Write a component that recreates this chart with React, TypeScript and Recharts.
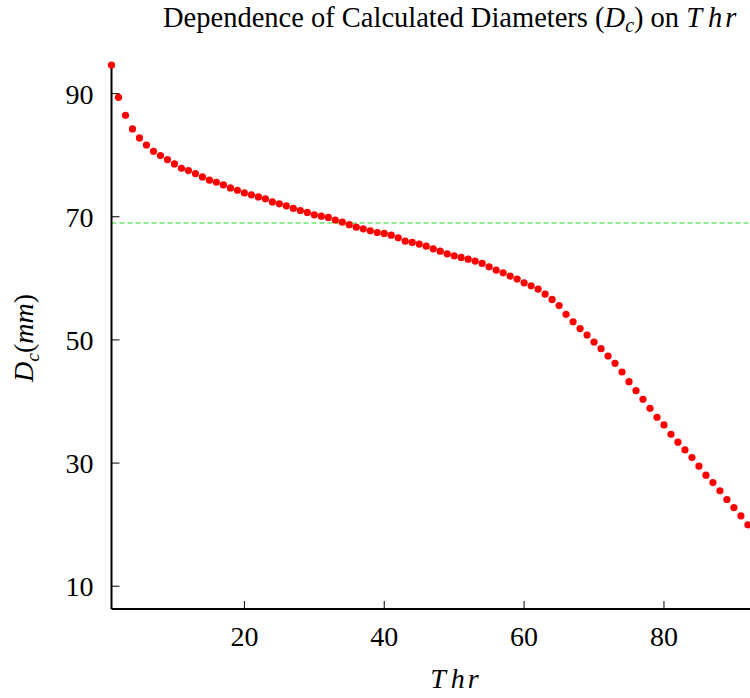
import React from "react";
import {
  ScatterChart,
  Scatter,
  XAxis,
  YAxis,
  ReferenceLine,
} from "recharts";

// Thr values (x) and calculated diameters Dc in mm (y)
const thr = [
  1, 2, 3, 4, 5, 6, 7, 8, 9, 10, 11, 12, 13, 14, 15, 16, 17, 18, 19, 20, 21,
  22, 23, 24, 25, 26, 27, 28, 29, 30, 31, 32, 33, 34, 35, 36, 37, 38, 39, 40,
  41, 42, 43, 44, 45, 46, 47, 48, 49, 50, 51, 52, 53, 54, 55, 56, 57, 58, 59,
  60, 61, 62, 63, 64, 65, 66, 67, 68, 69, 70, 71, 72, 73, 74, 75, 76, 77, 78,
  79, 80, 81, 82, 83, 84, 85, 86, 87, 88, 89, 90, 91, 92,
];

const dc = [
  94.64, 89.4, 86.48, 84.26, 82.8, 81.66, 80.64, 79.94, 79.29, 78.58, 77.88,
  77.5, 77.02, 76.47, 75.94, 75.61, 75.18, 74.69, 74.31, 73.88, 73.56, 73.23,
  72.91, 72.42, 72.1, 71.78, 71.35, 71.02, 70.7, 70.31, 70.1, 69.9, 69.48,
  69.12, 68.72, 68.31, 68.04, 67.72, 67.45, 67.29, 67.02, 66.58, 66.04, 65.83,
  65.56, 65.23, 64.8, 64.42, 63.98, 63.66, 63.4, 63.12, 62.8, 62.42, 61.87,
  61.34, 60.9, 60.37, 59.88, 59.28, 58.79, 58.26, 57.45, 56.58, 55.58, 54.15,
  52.95, 51.85, 50.8, 49.66, 48.58, 47.39, 46.2, 44.79, 43.22, 41.76, 40.36,
  38.9, 37.44, 36.19, 34.68, 33.39, 32.14, 30.89, 29.5, 28.04, 26.84, 25.49,
  24.08, 22.78, 21.43, 19.97,
];

const xTicks = [20, 40, 60, 80];
const yTicks = [10, 30, 50, 70, 90];
const threshold = 69;

const data = thr.map((t, i) => ({ thr: t, dc: dc[i] }));

const serif = "'Liberation Serif', 'Times New Roman', serif";
const tickStyle = { fontSize: 28, fill: "#000", fontFamily: serif };
const sub = { fontSize: "0.7em", position: "relative" as const, top: "0.3em" };

const Dot = (props: any) => (
  <circle cx={props.cx} cy={props.cy} r={3.6} fill="#ff0000" />
);

// math-style italic "Thr" (letters spaced like TeX math italic)
const MathThr = ({ a, b }: { a: number; b: number }) => (
  <>
    <i>T</i>
    <i style={{ marginLeft: a }}>h</i>
    <i style={{ marginLeft: b }}>r</i>
  </>
);

export default function App() {
  return (
    <div
      style={{
        position: "absolute",
        left: 0,
        top: 0,
        width: 750,
        height: 698,
        background: "#fff",
        fontFamily: serif,
        color: "#000",
      }}
    >
      <ScatterChart
        width={750}
        height={698}
        margin={{ top: 65, right: 0, bottom: 0, left: 0 }}
      >
        <XAxis
          type="number"
          dataKey="thr"
          domain={[1, 92.3]}
          ticks={xTicks}
          height={89}
          tickSize={-8}
          tickMargin={25}
          axisLine={{ stroke: "#000", strokeWidth: 2 }}
          tickLine={{ stroke: "#000" }}
          tick={tickStyle}
        />
        <YAxis
          type="number"
          dataKey="dc"
          domain={[6.3, 94.65]}
          ticks={yTicks}
          width={111.5}
          tickSize={-8}
          tickMargin={26}
          axisLine={{ stroke: "#000", strokeWidth: 2 }}
          tickLine={{ stroke: "#000" }}
          tick={tickStyle}
        />
        <ReferenceLine
          y={threshold}
          stroke="#6ee86e"
          strokeWidth={1.4}
          strokeDasharray="5 3"
        />
        <Scatter data={data} shape={Dot} isAnimationActive={false} />
      </ScatterChart>

      {/* title */}
      <div
        style={{
          position: "absolute",
          left: 163,
          top: 3.5,
          fontSize: 28.5,
          lineHeight: 1,
          whiteSpace: "nowrap",
        }}
      >
        Dependence of Calculated Diameters (<i>D</i>
        <span style={sub}>
          <i>c</i>
        </span>
        ) on <MathThr a={6} b={3} />
      </div>

      {/* y label */}
      <div
        style={{
          position: "absolute",
          left: 24,
          top: 338,
          fontSize: 28,
          lineHeight: 1,
          whiteSpace: "nowrap",
          transform: "translate(-50%, -50%) rotate(-90deg)",
        }}
      >
        <i>D</i>
        <span style={sub}>
          <i>c</i>
        </span>
        (<i>mm</i>)
      </div>

      {/* x label */}
      <div
        style={{
          position: "absolute",
          left: 454.5,
          top: 664.5,
          fontSize: 28,
          lineHeight: 1,
          whiteSpace: "nowrap",
          transform: "translateX(-50%)",
        }}
      >
        <MathThr a={5} b={3} />
      </div>
    </div>
  );
}
